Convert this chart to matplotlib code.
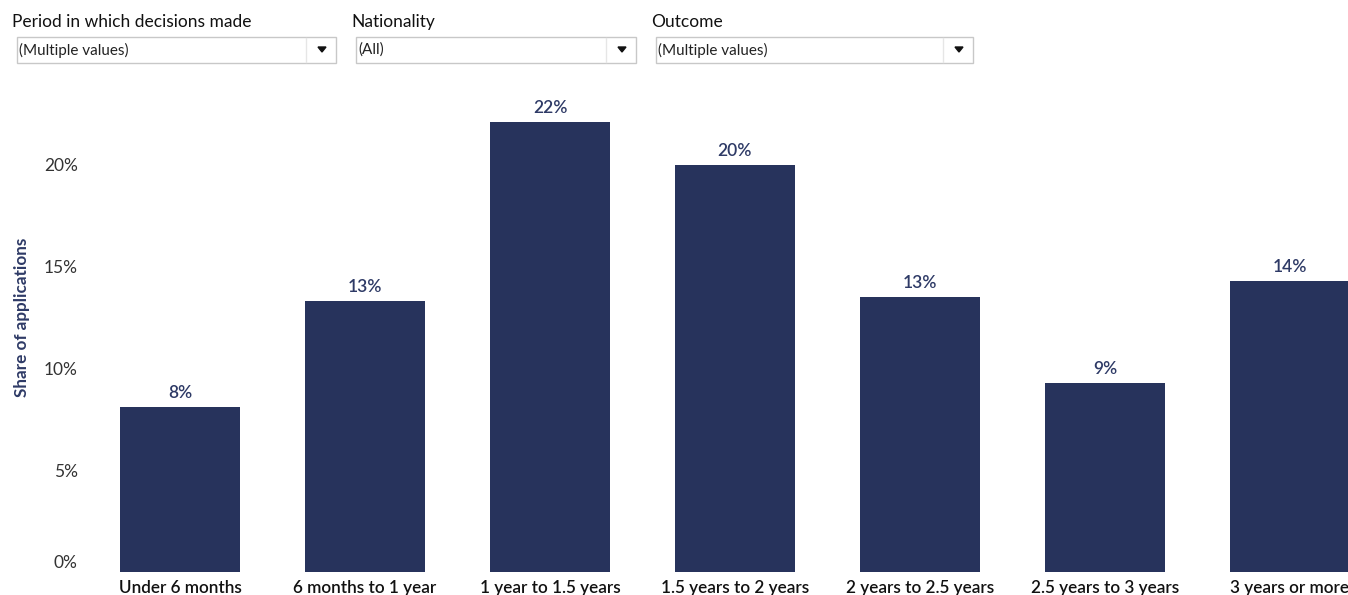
import matplotlib.pyplot as plt
from matplotlib.patches import Rectangle, Polygon
from matplotlib.transforms import ScaledTranslation

plt.rcParams['font.family'] = ['Lato', 'DejaVu Sans']

categories = ["Under 6 months", "6 months to 1 year", "1 year to 1.5 years",
              "1.5 years to 2 years", "2 years to 2.5 years", "2.5 years to 3 years",
              "3 years or more"]
shares = [8.1, 13.3, 22.1, 20.0, 13.5, 9.3, 14.3]
value_labels = ["8%", "13%", "22%", "20%", "13%", "9%", "14%"]
y_ticks = [0, 5, 10, 15, 20]
y_tick_labels = ["0%", "5%", "10%", "15%", "20%"]

filter_titles = ["Period in which decisions made", "Nationality", "Outcome"]
filter_values = ["(Multiple values)", "(All)", "(Multiple values)"]

W, H = 1348, 595
BAR_COLOR = "#27335c"
LABEL_COLOR = "#2e3a66"

fig = plt.figure(figsize=(W / 100, H / 100), dpi=100)

# Filter widgets (Tableau-style dropdowns)
box_x = [17, 356, 656]
box_w = [319, 280, 317]
for bx, bw, title, val in zip(box_x, box_w, filter_titles, filter_values):
    fig.text((bx - 5) / W, 1 - 22 / H, title, fontsize=12.5, color="#111111",
             va="center", ha="left")
    fig.patches.append(Rectangle((bx / W, 1 - 63 / H), bw / W, 26 / H,
                                 transform=fig.transFigure, facecolor="white",
                                 edgecolor="#c8c8c8", linewidth=1))
    fig.lines.append(plt.Line2D([(bx + bw - 30) / W] * 2, [1 - 62 / H, 1 - 38 / H],
                                transform=fig.transFigure, color="#e6e6e6", lw=1))
    tx = bx + bw - 14
    fig.patches.append(Polygon([((tx - 4) / W, 1 - 47 / H), ((tx + 4) / W, 1 - 47 / H),
                                (tx / W, 1 - 52 / H)], closed=True,
                               transform=fig.transFigure, color="#111111"))
    fig.text((bx + 2) / W, 1 - 50 / H, val, fontsize=11, color="#222222",
             va="center", ha="left")

# Bar chart
ax_left, ax_bottom, ax_top = 87.5, 572, 95
ax = fig.add_axes([ax_left / W, (H - ax_bottom) / H, (W - ax_left) / W,
                   (ax_bottom - ax_top) / H])
x = range(len(categories))
ax.bar(x, shares, width=0.65, color=BAR_COLOR)
for xi, v, lab in zip(x, shares, value_labels):
    ax.text(xi, v + 0.3, lab, ha="center", va="bottom", fontsize=12.5,
            color=LABEL_COLOR, fontweight="semibold")

ax.set_xlim(-0.5, (W - ax_left) / 185 - 0.5)
ax.set_ylim(0, (ax_bottom - ax_top) / 20.35)
ax.set_yticks(y_ticks)
ax.set_yticklabels(y_tick_labels, fontsize=12.5, color="#333333")
ax.set_xticks(list(x))
ax.set_xticklabels(categories, fontsize=12.3, color="#111111", fontweight="semibold")
ax.tick_params(axis="both", length=0)
ax.tick_params(axis="y", pad=7)
ax.tick_params(axis="x", pad=6)
for s in ax.spines.values():
    s.set_visible(False)
# Tableau nudges the 0% label up so it sits above the baseline
zero_lab = ax.get_yticklabels()[0]
zero_lab.set_transform(zero_lab.get_transform() + ScaledTranslation(0, 11 / 100, fig.dpi_scale_trans))

fig.text(22 / W, 1 - 317 / H, "Share of applications", rotation=90, fontsize=12.3,
         color=LABEL_COLOR, fontweight="bold", ha="center", va="center")

plt.savefig("out.png", dpi=100)
